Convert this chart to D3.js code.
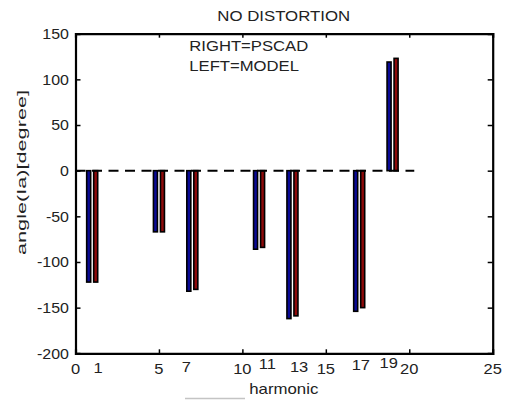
<!DOCTYPE html>
<html>
<head>
<meta charset="utf-8">
<script src="https://cdn.jsdelivr.net/npm/d3@7"></script>
<style>
  body { margin: 0; background: #fff; }
  text { font-family: "Liberation Sans", Arial, sans-serif; fill: #222; }
</style>
</head>
<body>
<div id="chart"></div>
<script>
// harmonic orders and phase angle of Ia (degree)
var harmonics = [1, 5, 7, 11, 13, 17, 19];
var modelAngle = [-122, -67, -132, -86, -162, -154, 119];   // LEFT (blue)
var pscadAngle = [-122, -67, -130, -84, -159, -150, 123];   // RIGHT (red)

var xTicks = [0, 5, 10, 15, 20, 25];
var yTicks = [-200, -150, -100, -50, 0, 50, 100, 150];

// extra harmonic numbers written under the axis (text(x, y, label) in data units)
var noteLabels = ["1", "7", "11", "13", "17", "19"];
var noteX = [1.36, 6.65, 11.5, 13.4, 17.1, 18.77];
var noteY = [-222, -220, -217, -221, -218, -216];

var legendLines = ["RIGHT=PSCAD", "LEFT=MODEL"];

var W = 507, H = 400;
var margin = { top: 33.7, right: 14.3, bottom: 46.7, left: 75.5 },
    width = W - margin.left - margin.right,
    height = H - margin.top - margin.bottom;

var svg = d3.select("#chart").append("svg")
    .attr("width", W)
    .attr("height", H);

var x = d3.scaleLinear().domain([0, 25]).range([margin.left, margin.left + width]);
var y = d3.scaleLinear().domain([-200, 150]).range([margin.top + height, margin.top]);

// stretch text a bit wider, the original is scaled horizontally
function widen(sel, k) {
    sel.each(function() {
        var w = this.getComputedTextLength();
        d3.select(this).attr("textLength", w * k).attr("lengthAdjust", "spacingAndGlyphs");
    });
}

// bars
var barW = 0.24, barGap = 0.09;
var g = svg.append("g");
harmonics.forEach(function(h, i) {
    [[modelAngle[i], "#0a0a96", -1], [pscadAngle[i], "#8e0a0a", 1]].forEach(function(b) {
        var x0 = b[2] < 0 ? x(h - barGap - barW) : x(h + barGap);
        g.append("rect")
            .attr("x", x0)
            .attr("width", x(barW) - x(0))
            .attr("y", y(Math.max(0, b[0])))
            .attr("height", Math.abs(y(b[0]) - y(0)))
            .attr("fill", b[1])
            .attr("stroke", "#000")
            .attr("stroke-width", 1.6);
    });
});

// zero reference line
svg.append("line")
    .attr("x1", x(0)).attr("x2", x(20.3))
    .attr("y1", y(0)).attr("y2", y(0))
    .attr("stroke", "#000")
    .attr("stroke-width", 2)
    .attr("stroke-dasharray", "10,6.5");

// axes box + inward ticks
var xAxisB = svg.append("g").attr("transform", "translate(0," + y(-200) + ")")
    .call(d3.axisBottom(x).tickValues(xTicks).tickSize(-4).tickFormat(""));
var xAxisT = svg.append("g").attr("transform", "translate(0," + y(150) + ")")
    .call(d3.axisTop(x).tickValues(xTicks).tickSize(-4).tickFormat(""));
var yAxisL = svg.append("g").attr("transform", "translate(" + x(0) + ",0)")
    .call(d3.axisLeft(y).tickValues(yTicks).tickSize(-5).tickFormat(""));
var yAxisR = svg.append("g").attr("transform", "translate(" + x(25) + ",0)")
    .call(d3.axisRight(y).tickValues(yTicks).tickSize(-5).tickFormat(""));
svg.selectAll(".domain").attr("stroke", "#000").attr("stroke-width", 2.2);
svg.selectAll(".tick line").attr("stroke", "#000").attr("stroke-width", 1.5);

// tick labels
var xl = svg.append("g").selectAll("text").data(xTicks).enter().append("text")
    .attr("x", function(d) { return x(d); })
    .attr("y", y(-200) + 21)
    .attr("text-anchor", "middle")
    .style("font-size", "15px")
    .text(function(d) { return d; });
widen(xl, 1.1);

var yl = svg.append("g").selectAll("text").data(yTicks).enter().append("text")
    .attr("x", x(0) - 6.5)
    .attr("y", function(d) { return y(d) + 5.2; })
    .attr("text-anchor", "end")
    .style("font-size", "14.5px")
    .text(function(d) { return d; });
widen(yl, 1.1);

var nl = svg.append("g").selectAll("text").data(noteLabels).enter().append("text")
    .attr("x", function(d, i) { return x(noteX[i]); })
    .attr("y", function(d, i) { return y(noteY[i]); })
    .attr("text-anchor", "middle")
    .style("font-size", "15px")
    .text(function(d) { return d; });
widen(nl, 1.1);

// title, legend, axis labels
var title = svg.append("text")
    .attr("x", 283.7).attr("y", 20.7)
    .attr("text-anchor", "middle")
    .style("font-size", "15px")
    .text("NO DISTORTION");
widen(title, 1.12);

var lg = svg.append("g").selectAll("text").data(legendLines).enter().append("text")
    .attr("x", 189.3)
    .attr("y", function(d, i) { return 50.7 + i * 20; })
    .style("font-size", "15px")
    .text(function(d) { return d; });
widen(lg, 1.11);

var xlab = svg.append("text")
    .attr("x", 283.8).attr("y", 394.3)
    .attr("text-anchor", "middle")
    .style("font-size", "15px")
    .text("harmonic");
widen(xlab, 1.12);

svg.append("text")
    .attr("transform", "translate(25.5,172.5) rotate(-90)")
    .attr("text-anchor", "middle")
    .style("font-size", "13px")
    .attr("textLength", 165)
    .attr("lengthAdjust", "spacingAndGlyphs")
    .text("angle(Ia)[degree]");

// faint grey stroke under the x label
svg.append("line")
    .attr("x1", 185).attr("x2", 245)
    .attr("y1", 398.5).attr("y2", 398.5)
    .attr("stroke", "#c4c4c4")
    .attr("stroke-width", 1.5);
</script>
</body>
</html>
